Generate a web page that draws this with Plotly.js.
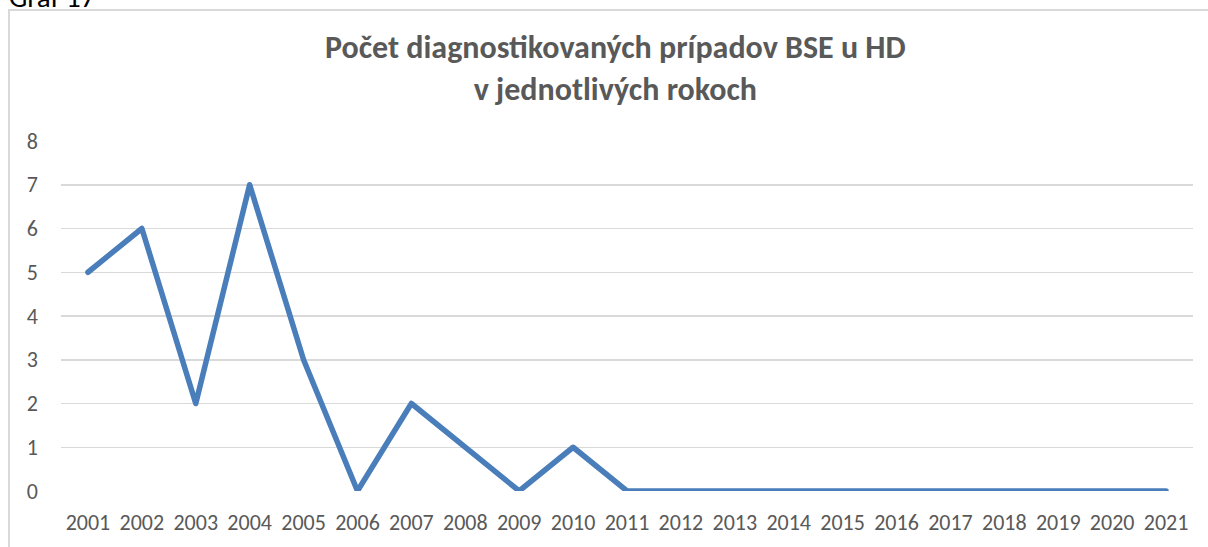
<!DOCTYPE html>
<html>
<head>
<meta charset="utf-8">
<script src="https://cdn.plot.ly/plotly-3.0.1.min.js"></script>
<style>html,body{margin:0;padding:0;background:#fff;}#chart{width:1208px;height:547px;}</style>
</head>
<body>
<div id="chart"></div>
<script>
var years = ["2001","2002","2003","2004","2005","2006","2007","2008","2009","2010","2011","2012","2013","2014","2015","2016","2017","2018","2019","2020","2021"];
var cases = [5,6,2,7,3,0,2,1,0,1,0,0,0,0,0,0,0,0,0,0,0];
var titleLines = ["Počet diagnostikovaných prípadov BSE u HD", "v jednotlivých rokoch"];
var caption = "Graf 17";

var L = 61, R = 1193, T = 141, B = 491, W = 1208, H = 547;
function px(x){ return (x - L) / (R - L); }
function py(y){ return (B - y) / (B - T); }

var trace = {
  x: years, y: cases, type: 'scatter', mode: 'lines',
  line: {color: '#4a7ebb', width: 5.5, shape: 'linear'},
  hoverinfo: 'x+y'
};
var font = "Carlito, 'Open Sans', 'Liberation Sans', sans-serif";
var layout = {
  width: W, height: H,
  margin: {l: L, r: W - R, t: T, b: H - B, pad: 0},
  paper_bgcolor: '#ffffff', plot_bgcolor: '#ffffff',
  showlegend: false,
  font: {family: font, color: '#595959', size: 22},
  xaxis: {
    type: 'category', range: [-0.5, 20.5], showgrid: false, zeroline: false,
    showline: false, ticks: '', ticklabelstandoff: 16,
    tickfont: {family: font, size: 22, color: '#595959'}
  },
  yaxis: {
    range: [0, 8], dtick: 1, showgrid: true, gridcolor: '#d9d9d9', gridwidth: 1.5,
    zeroline: false, showline: false, ticks: '', ticklabelstandoff: 22,
    tickfont: {family: font, size: 22, color: '#595959'}
  },
  shapes: [
    {type: 'rect', xref: 'paper', yref: 'paper', x0: px(9), x1: px(1230), y0: py(560), y1: py(10),
     line: {color: '#d9d9d9', width: 2}, layer: 'below'}
  ],
  annotations: [
    {text: '<b>' + titleLines[0] + '</b><br><b>' + titleLines[1] + '</b>', xref: 'paper', yref: 'paper',
     x: px(615), y: py(69), xanchor: 'center', yanchor: 'middle', showarrow: false,
     font: {family: font, size: 32, color: '#595959'}},
    {text: caption, xref: 'paper', yref: 'paper', x: px(7), y: py(17), xanchor: 'left', yanchor: 'bottom',
     showarrow: false, font: {family: font, size: 29, color: '#000000'}}
  ]
};
Plotly.newPlot('chart', [trace], layout, {displayModeBar: false, staticPlot: true}).then(function(){
  var p = document.querySelector('#chart .scatterlayer path.js-line');
  if (p) { p.style.strokeLinejoin = 'round'; p.style.strokeLinecap = 'round'; }
});
</script>
</body>
</html>
